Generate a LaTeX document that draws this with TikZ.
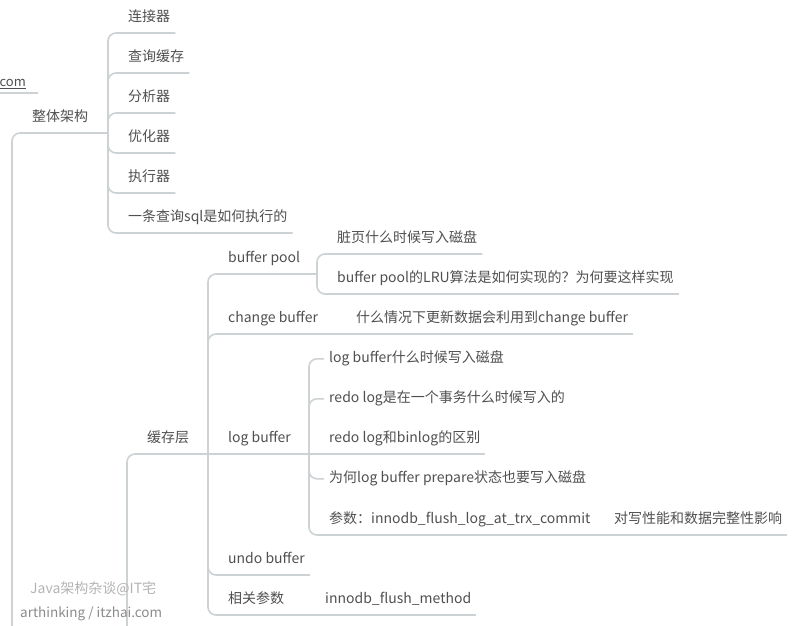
\documentclass[tikz,border=0pt]{standalone}
\usepackage{fontspec}
\setmainfont{Noto Sans CJK SC}
\definecolor{txt}{HTML}{505050}
\definecolor{wire}{HTML}{CDD2D4}
\definecolor{markA}{HTML}{B4B4B4}
\definecolor{markB}{HTML}{8C8C8C}
\tikzset{
  topic/.style={anchor=south west, inner xsep=5pt, inner ysep=9pt, text height=10pt, text depth=2pt, font=\fontsize{14}{17}\selectfont, text=txt},
  link/.style={draw=wire, line width=1.6pt, rounded corners=8pt},
  stamp/.style={anchor=base west, inner sep=0pt, font=\fontsize{14}{17}\selectfont},
}
\begin{document}
\begin{tikzpicture}[x=1pt, y=-1pt]
\useasboundingbox (0,0) rectangle (800,625);
\fill[white] (0,0) rectangle (800,625);
\clip (0,0) rectangle (800,625);
% branch points
\coordinate (r1) at (12,700);
\coordinate (r2) at (127,700);
\coordinate (com-a) at (0,93);
\coordinate (com-b) at (38,93);
\coordinate (zt-b) at (108,133);
\coordinate (hc-b) at (208,454);
\coordinate (bp-b) at (317,274);
\coordinate (cb-b) at (336,334);
\coordinate (lb-b) at (309,454);
\coordinate (lb5-b) at (594,535);
\coordinate (xg-b) at (305,615);
% topics
\node[topic, inner xsep=0pt, anchor=base east, font=\fontsize{13}{16}\selectfont] (com) at (26,86) {com};
\node[topic] (zt) at (27,133) {整体架构};
\node[topic] (lj) at (123,33) {连接器};
\node[topic] (cx) at (123,73) {查询缓存};
\node[topic] (fx) at (123,113) {分析器};
\node[topic] (yh) at (123,153) {优化器};
\node[topic] (zx) at (123,193) {执行器};
\node[topic] (yt) at (123,233) {一条查询sql是如何执行的};
\node[topic] (hc) at (142,454) {缓存层};
\node[topic] (bp) at (223,274) {buffer pool};
\node[topic] (cb) at (223,334) {change buffer};
\node[topic] (lb) at (223,454) {log buffer};
\node[topic] (ub) at (223,575) {undo buffer};
\node[topic] (xg) at (223,615) {相关参数};
\node[topic] (bp1) at (332,254) {脏页什么时候写入磁盘};
\node[topic] (bp2) at (332,294) {buffer pool的LRU算法是如何实现的？为何要这样实现};
\node[topic] (cb1) at (351,334) {什么情况下更新数据会利用到change buffer};
\node[topic] (lb1) at (324,374) {log buffer什么时候写入磁盘};
\node[topic] (lb2) at (324,414) {redo log是在一个事务什么时候写入的};
\node[topic] (lb3) at (324,454) {redo log和binlog的区别};
\node[topic] (lb4) at (324,494) {为何log buffer prepare状态也要写入磁盘};
\node[topic] (lb5) at (324,535) {参数：innodb\_flush\_log\_at\_trx\_commit};
\node[topic] (lb6) at (609,535) {对写性能和数据完整性影响};
\node[topic] (xg1) at (320,615) {innodb\_flush\_method};
% connectors
\draw[link] (com-a) -- (com-b);
\draw[txt, line width=0.6pt] ([yshift=-2pt]com.base west) -- ([yshift=-2pt]com.base east);
\draw[link] (r1) |- (zt-b);
\foreach \c in {lj,cx,fx,yh,zx,yt}
  \draw[link] (zt-b) |- (\c.south east);
\draw[link] (r2) |- (hc-b);
\foreach \c in {bp-b,cb-b,ub.south east,xg-b}
  \draw[link] (hc-b) |- (\c);
\draw[link] (hc-b) -- (lb-b);
\foreach \c in {bp1,bp2}
  \draw[link] (bp-b) |- (\c.south east);
\draw[link] (cb-b) -- (cb1.south east);
\foreach \c in {lb1,lb2,lb4,lb5-b}
  \draw[link] (lb-b) |- (\c);
\draw[link] (lb-b) -- (lb3.south east);
\draw[link] (lb5-b) -- (lb6.south east);
\draw[link] (xg-b) -- (xg1.south east);
% watermark
\node[stamp, text=markA] (wm1) at (30,593) {Java架构杂谈@IT宅};
\node[stamp, text=markB, font=\fontsize{13.5}{16}\selectfont] (wm2) at (20,617) {arthinking / itzhai.com};
\end{tikzpicture}
\end{document}
